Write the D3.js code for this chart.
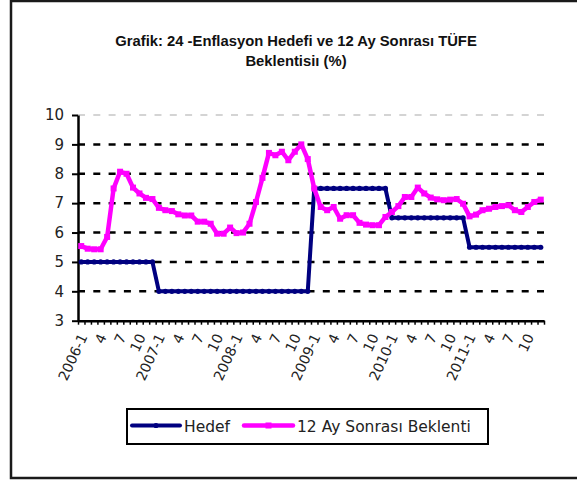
<!DOCTYPE html>
<html>
<head>
<meta charset="utf-8">
<script src="https://cdn.jsdelivr.net/npm/d3@7"></script>
<style>
  body { margin: 0; background: #fff; }
  svg { display: block; }
</style>
</head>
<body>
<svg id="chart" width="577" height="481"></svg>
<script>
// monthly values, 2006-1 .. 2011-12
const hedef = [
  5, 5, 5, 5, 5, 5, 5, 5, 5, 5, 5, 5,
  4, 4, 4, 4, 4, 4, 4, 4, 4, 4, 4, 4,
  4, 4, 4, 4, 4, 4, 4, 4, 4, 4, 4, 4,
  7.5, 7.5, 7.5, 7.5, 7.5, 7.5, 7.5, 7.5, 7.5, 7.5, 7.5, 7.5,
  6.5, 6.5, 6.5, 6.5, 6.5, 6.5, 6.5, 6.5, 6.5, 6.5, 6.5, 6.5,
  5.5, 5.5, 5.5, 5.5, 5.5, 5.5, 5.5, 5.5, 5.5, 5.5, 5.5, 5.5
]
const beklenti = [
  5.54, 5.45, 5.43, 5.43, 5.85, 7.50, 8.07, 8.00, 7.53, 7.33, 7.18, 7.14,
  6.84, 6.76, 6.73, 6.62, 6.58, 6.58, 6.37, 6.37, 6.30, 5.96, 5.96, 6.17,
  5.98, 6.00, 6.30, 7.04, 7.86, 8.71, 8.63, 8.75, 8.46, 8.75, 9.00, 8.50,
  7.50, 6.87, 6.76, 6.87, 6.47, 6.59, 6.59, 6.33, 6.27, 6.25, 6.25, 6.53,
  6.70, 6.90, 7.21, 7.21, 7.53, 7.33, 7.19, 7.13, 7.10, 7.12, 7.14, 6.98,
  6.55, 6.61, 6.76, 6.81, 6.87, 6.90, 6.93, 6.76, 6.70, 6.87, 7.04, 7.12
]
// every third month gets a label
const tickLabels = [
  '2006-1', '4', '7', '10', '2007-1', '4', '7', '10',
  '2008-1', '4', '7', '10', '2009-1', '4', '7', '10',
  '2010-1', '4', '7', '10', '2011-1', '4', '7', '10'
]
const yTicks = [3, 4, 5, 6, 7, 8, 9, 10]
const seriesNames = ['Hedef', '12 Ay Sonrası Beklenti']
const title = ['Grafik: 24 -Enflasyon Hedefi ve 12 Ay Sonrası TÜFE', 'Beklentisiı (%)']

const navy = '#000080'
const pink = '#ff00ff'
const font = '"DejaVu Sans", sans-serif'

const svg = d3.select('#chart')
const plot = { left: 78, right: 544, top: 115, bottom: 320.7 }

const n = hedef.length
const x = d3.scaleLinear().domain([0, n]).range([plot.left, plot.right])
const y = d3.scaleLinear().domain([3, 10]).range([plot.bottom, plot.top])

// outer frame
svg.append('rect')
  .attr('x', 11).attr('y', 1)
  .attr('width', 620).attr('height', 477)
  .attr('fill', 'none')
  .attr('stroke', '#1a1a1a')
  .attr('stroke-width', 2.5)

// title
svg.append('g').selectAll('text')
  .data(title)
  .enter().append('text')
  .attr('x', 296)
  .attr('y', (d, i) => 46 + i * 20)
  .attr('text-anchor', 'middle')
  .style('font', 'bold 14.8px "Liberation Sans", Arial, sans-serif')
  .style('fill', '#111')
  .text(d => d)

// gridlines
svg.append('g').selectAll('line')
  .data(yTicks.slice(1))
  .enter().append('line')
  .attr('x1', x(0)).attr('x2', x(n))
  .attr('y1', d => y(d)).attr('y2', d => y(d))
  .attr('stroke', d => d === 10 ? '#aaa' : '#000')
  .attr('stroke-width', d => d === 10 ? 1.2 : 2.5)
  .attr('stroke-dasharray', '7,8.3')

// y axis
const yAxis = svg.append('g')
  .attr('transform', 'translate(' + plot.left + ',0)')
  .call(d3.axisLeft(y).tickValues(yTicks).tickFormat(d3.format('d'))
    .tickSize(6).tickSizeOuter(0).tickPadding(8))
yAxis.select('.domain').attr('stroke-width', 2.5)
yAxis.selectAll('.tick line').attr('stroke-width', 2)
yAxis.selectAll('text')
  .style('font', '15px ' + font)
  .style('fill', '#222')

// x axis: a tick on every month boundary
const xAxis = svg.append('g')
  .attr('transform', 'translate(0,' + plot.bottom + ')')
  .call(d3.axisBottom(x).tickValues(d3.range(n + 1)).tickSize(4).tickSizeOuter(0).tickFormat(''))
xAxis.select('.domain').attr('stroke-width', 2.5)
xAxis.selectAll('.tick line').attr('stroke-width', 1.5)

svg.append('g').selectAll('text')
  .data(tickLabels)
  .enter().append('text')
  .attr('transform', (d, i) => 'translate(' + (x(i * 3 + 0.5) + 2) + ',' + (plot.bottom + 14) + ') rotate(-65)')
  .attr('text-anchor', 'end')
  .attr('dy', '0.35em')
  .style('font', '14px ' + font)
  .style('fill', '#222')
  .text(d => d)

// series
const line = d3.line()
  .x((d, i) => x(i + 0.5))
  .y(d => y(d))

svg.append('path')
  .datum(hedef)
  .attr('d', line)
  .attr('fill', 'none')
  .attr('stroke', navy)
  .attr('stroke-width', 4)
  .attr('stroke-linejoin', 'round')

svg.append('g').selectAll('circle')
  .data(hedef)
  .enter().append('circle')
  .attr('cx', (d, i) => x(i + 0.5))
  .attr('cy', d => y(d))
  .attr('r', 2.6)
  .attr('fill', navy)

svg.append('path')
  .datum(beklenti)
  .attr('d', line)
  .attr('fill', 'none')
  .attr('stroke', pink)
  .attr('stroke-width', 4.5)
  .attr('stroke-linejoin', 'round')

svg.append('g').selectAll('rect')
  .data(beklenti)
  .enter().append('rect')
  .attr('x', (d, i) => x(i + 0.5) - 3)
  .attr('y', d => y(d) - 3)
  .attr('width', 6).attr('height', 6)
  .attr('fill', pink)

// legend
const legend = svg.append('g')
legend.append('rect')
  .attr('x', 127).attr('y', 409)
  .attr('width', 361).attr('height', 35)
  .attr('fill', '#fff')
  .attr('stroke', '#000')
  .attr('stroke-width', 2)

const legendItems = [
  { name: seriesNames[0], color: navy, x0: 132, x1: 180, tx: 184, w: 4 },
  { name: seriesNames[1], color: pink, x0: 244, x1: 293, tx: 297, w: 4.5 }
]
legendItems.forEach((d, i) => {
  legend.append('line')
    .attr('x1', d.x0).attr('x2', d.x1)
    .attr('y1', 425.5).attr('y2', 425.5)
    .attr('stroke', d.color)
    .attr('stroke-width', d.w)
    .attr('stroke-linecap', 'round')
  if (i === 0) {
    legend.append('circle')
      .attr('cx', (d.x0 + d.x1) / 2).attr('cy', 425.5)
      .attr('r', 2.6).attr('fill', d.color)
  } else {
    legend.append('rect')
      .attr('x', (d.x0 + d.x1) / 2 - 3).attr('y', 422.5)
      .attr('width', 6).attr('height', 6).attr('fill', d.color)
  }
  legend.append('text')
    .attr('x', d.tx).attr('y', 431.5)
    .style('font', '15.5px ' + font)
    .style('fill', '#222')
    .text(d.name)
})
</script>
</body>
</html>
